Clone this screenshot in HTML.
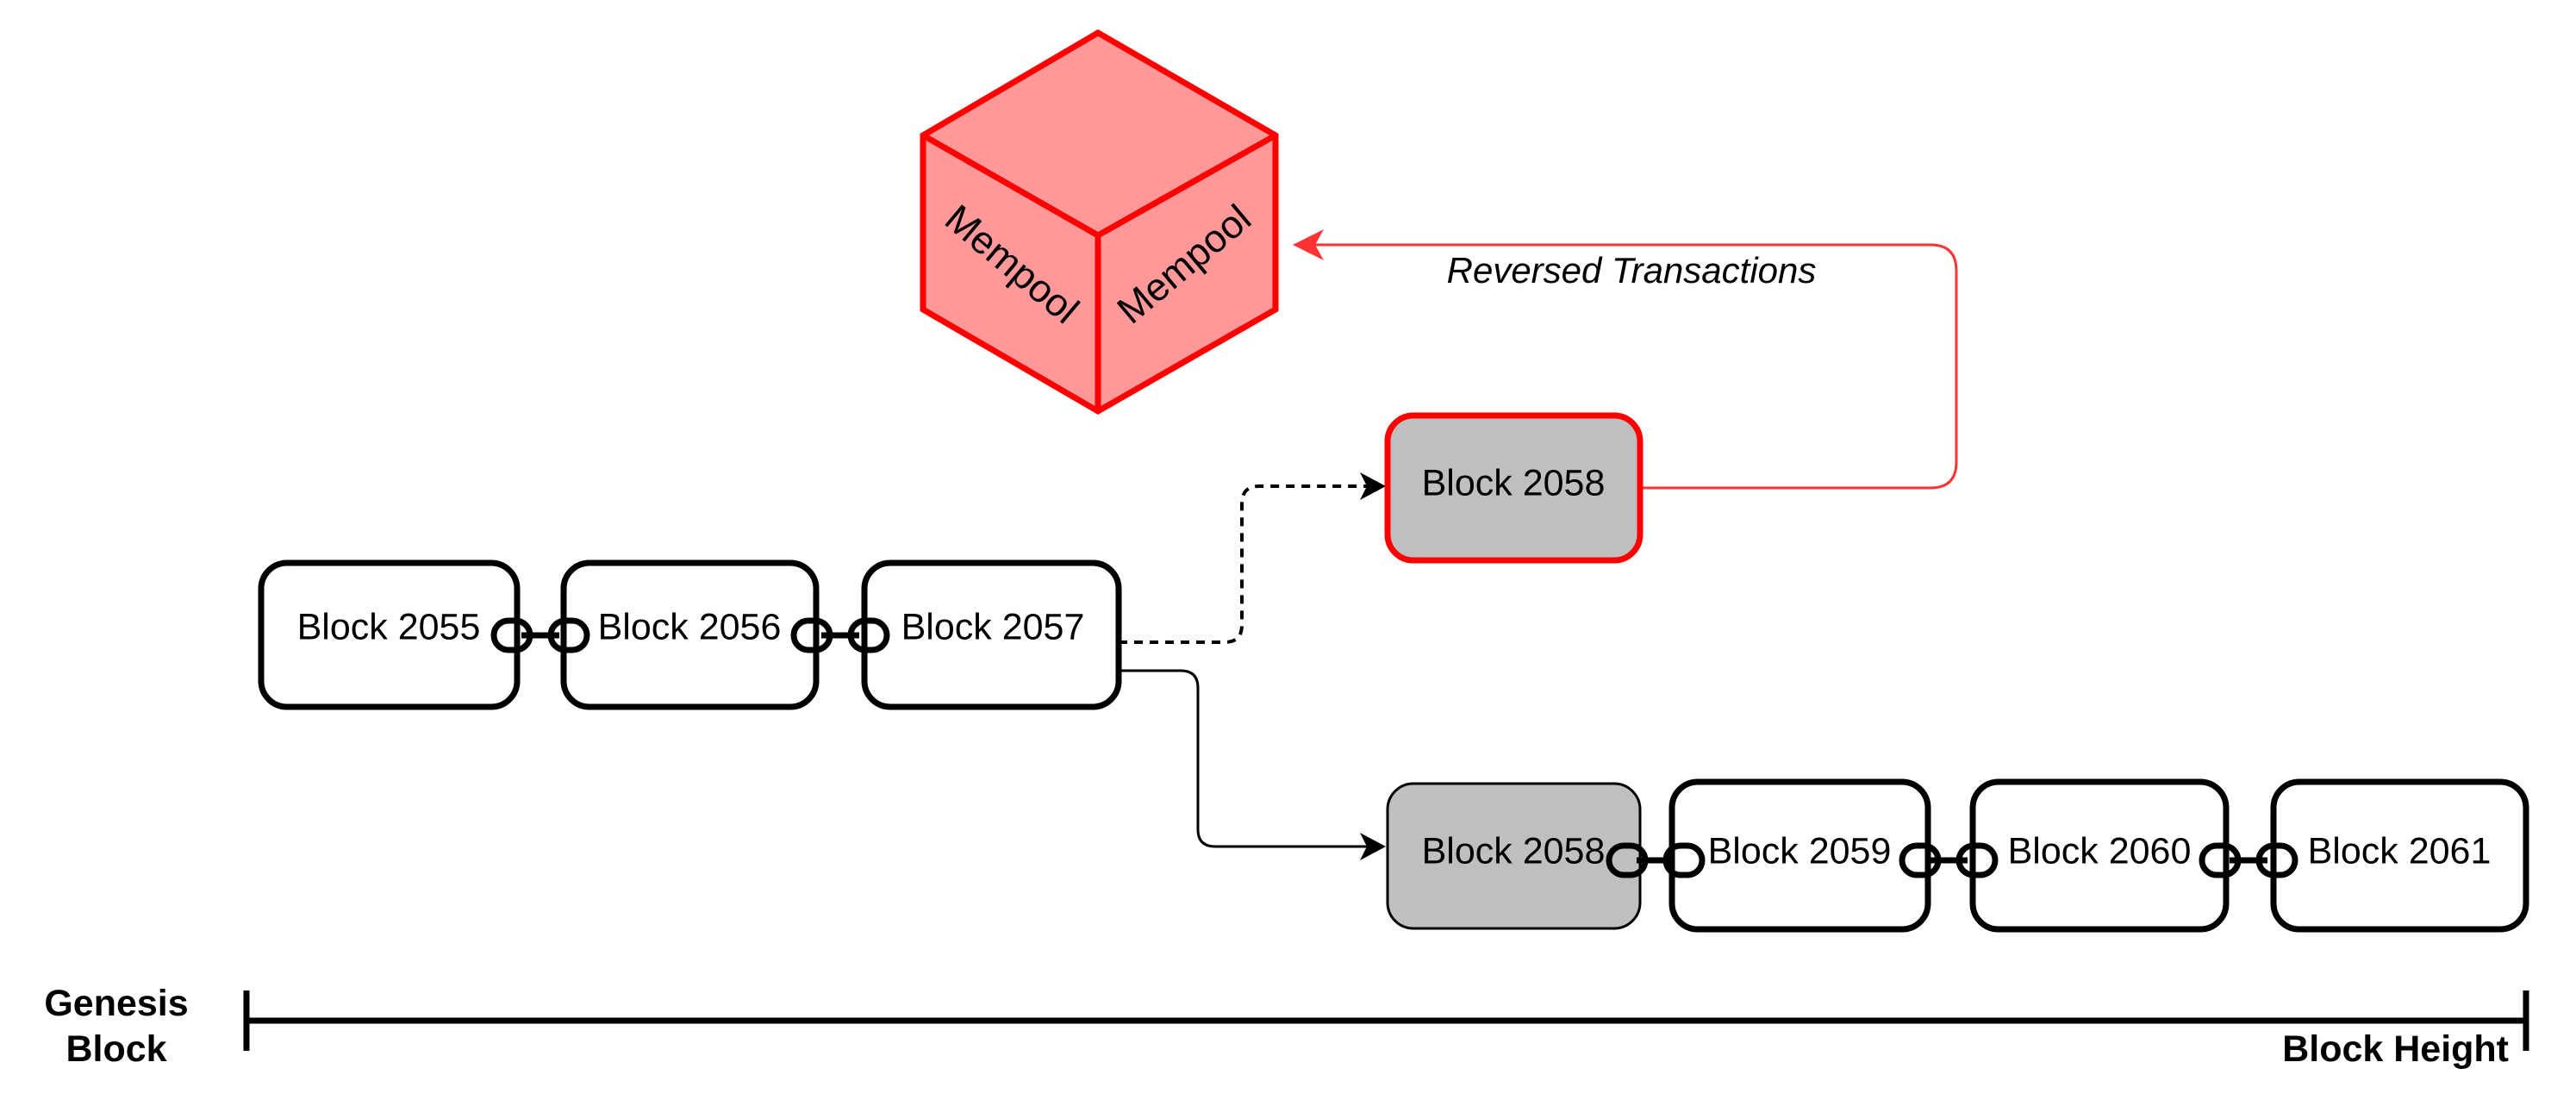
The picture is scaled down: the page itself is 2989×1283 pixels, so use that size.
<!DOCTYPE html>
<html><head><meta charset="utf-8"><style>
html,body{margin:0;padding:0;background:#fff;}
svg{display:block;}
text{font-family:"Liberation Sans",Arial,sans-serif;}
</style></head><body>
<svg width="2989" height="1283" viewBox="0 0 2989 1283" xmlns="http://www.w3.org/2000/svg">
<!-- cube -->
<g stroke="#ff0000" stroke-width="7" stroke-linejoin="miter" fill="#ff9999">
<polygon points="1274,38 1480,157 1480,359 1274,477 1071,359 1071,157"/>
<polyline points="1071,157 1274,273 1480,157" fill="none"/>
<line x1="1274" y1="273" x2="1274" y2="477"/>
</g>
<text x="1172" y="309" font-size="45" text-anchor="middle" dominant-baseline="middle" transform="rotate(40 1172 309)">Mempool</text>
<text x="1376" y="309" font-size="45" text-anchor="middle" dominant-baseline="middle" transform="rotate(-40 1376 309)">Mempool</text>

<!-- reversed connector -->
<path d="M1904,566 H2240 Q2270,566 2270,536 V314 Q2270,284 2240,284 H1515" fill="none" stroke="#ff3333" stroke-width="3"/>
<polygon points="1500,284 1536,266 1526,284 1536,302" fill="#ff3333"/>
<text x="1893" y="328" font-size="42" font-style="italic" text-anchor="middle">Reversed Transactions</text>

<!-- dashed connector -->
<path d="M1298,745 H1421 Q1441,745 1441,725 V584 Q1441,564 1461,564 H1590" fill="none" stroke="#000" stroke-width="4" stroke-dasharray="10,8"/>
<polygon points="1608,564 1578,548 1586,564 1578,580" fill="#000"/>
<!-- solid connector -->
<path d="M1298,778 H1370 Q1390,778 1390,798 V962 Q1390,982 1410,982 H1590" fill="none" stroke="#000" stroke-width="3"/>
<polygon points="1608,982 1578,966 1586,982 1578,998" fill="#000"/>

<g stroke="#000" stroke-width="7" fill="#fff">
<rect x="303" y="653" width="297" height="167" rx="30"/>
<rect x="654" y="653" width="293" height="167" rx="30"/>
<rect x="1003" y="653" width="295" height="167" rx="30"/>
<rect x="1610" y="482" width="293" height="168" rx="30" fill="#bfbfbf" stroke="#ff0000"/>
<rect x="1610" y="909" width="293" height="168" rx="30" fill="#bfbfbf" stroke-width="3"/>
<rect x="1940" y="907" width="297" height="171" rx="30"/>
<rect x="2289" y="907" width="294" height="171" rx="30"/>
<rect x="2638" y="907" width="293" height="171" rx="30"/>
</g>
<g font-size="43" text-anchor="middle" dominant-baseline="middle">
<text x="451" y="730">Block 2055</text>
<text x="800" y="730">Block 2056</text>
<text x="1152" y="730">Block 2057</text>
<text x="1756" y="563">Block 2058</text>
<text x="1756" y="990">Block 2058</text>
<text x="2088" y="990">Block 2059</text>
<text x="2436" y="990">Block 2060</text>
<text x="2784" y="990">Block 2061</text>
</g>

<!-- chain links -->
<g fill="none" stroke="#000" stroke-width="7">
<g transform="translate(627,737)">
<rect x="-54" y="-17" width="42" height="34" rx="17"/><rect x="12" y="-17" width="42" height="34" rx="17"/><line x1="-22" y1="0" x2="22" y2="0" stroke-width="7"/>
</g>
<g transform="translate(975,737)">
<rect x="-54" y="-17" width="42" height="34" rx="17"/><rect x="12" y="-17" width="42" height="34" rx="17"/><line x1="-22" y1="0" x2="22" y2="0" stroke-width="7"/>
</g>
<g transform="translate(1921,998)">
<rect x="-54" y="-17" width="42" height="34" rx="17"/><rect x="12" y="-17" width="42" height="34" rx="17"/><line x1="-22" y1="0" x2="22" y2="0" stroke-width="7"/>
</g>
<g transform="translate(2261,998)">
<rect x="-54" y="-17" width="42" height="34" rx="17"/><rect x="12" y="-17" width="42" height="34" rx="17"/><line x1="-22" y1="0" x2="22" y2="0" stroke-width="7"/>
</g>
<g transform="translate(2609,998)">
<rect x="-54" y="-17" width="42" height="34" rx="17"/><rect x="12" y="-17" width="42" height="34" rx="17"/><line x1="-22" y1="0" x2="22" y2="0" stroke-width="7"/>
</g>
</g>

<!-- axis -->
<g stroke="#000" stroke-width="7">
<line x1="286" y1="1184" x2="2931" y2="1184"/>
<line x1="286" y1="1149" x2="286" y2="1219"/>
<line x1="2931" y1="1149" x2="2931" y2="1219"/>
</g>
<g font-size="43" font-weight="bold">
<text x="135" y="1178" text-anchor="middle">Genesis</text>
<text x="135" y="1231" text-anchor="middle">Block</text>
<text x="2911" y="1231" text-anchor="end">Block Height</text>
</g>
</svg>
</body></html>
